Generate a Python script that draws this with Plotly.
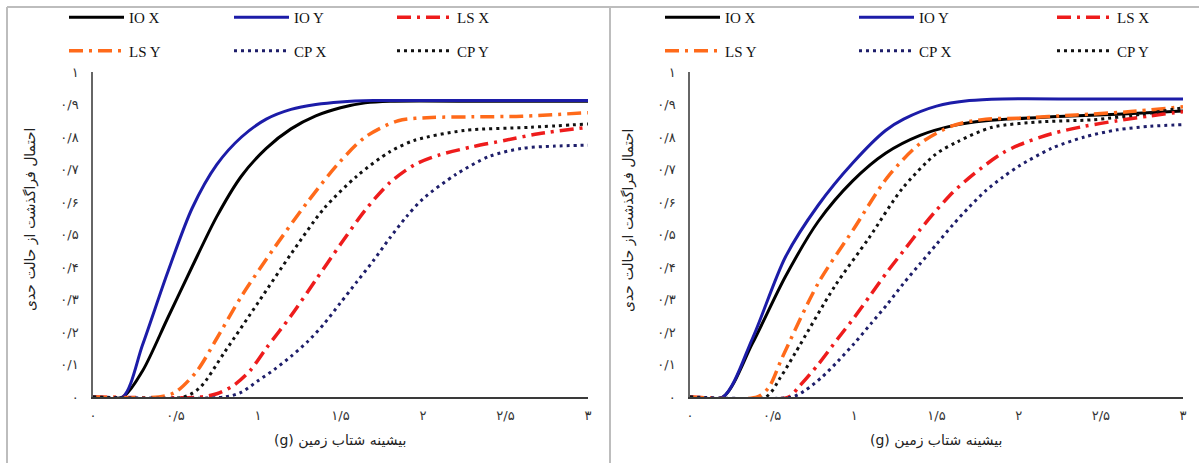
import plotly.graph_objects as go

# ---------------- data ----------------
series_names = ["IO X", "IO Y", "LS X", "LS Y", "CP X", "CP Y"]

x_ticks = [0, 0.5, 1, 1.5, 2, 2.5, 3]
x_tick_text = ["۰", "۰/۵", "۱", "۱/۵", "۲", "۲/۵", "۳"]
y_ticks = [0, 0.1, 0.2, 0.3, 0.4, 0.5, 0.6, 0.7, 0.8, 0.9, 1]
y_tick_text = ["۰", "۰/۱", "۰/۲", "۰/۳", "۰/۴", "۰/۵", "۰/۶", "۰/۷", "۰/۸", "۰/۹", "۱"]

x_title = "(g) بیشینه شتاب زمین"
y_title = "احتمال فراگذشت از حالت حدی"

# left panel
a_io_x_x = [0, 0.18, 0.3, 0.45, 0.6, 0.75, 0.9, 1.05, 1.2, 1.35, 1.5, 1.65, 1.8, 2.4, 3.0]
a_io_x_y = [0, 0, 0.08, 0.24, 0.40, 0.555, 0.68, 0.765, 0.825, 0.865, 0.89, 0.905, 0.91, 0.91, 0.91]
a_io_y_x = [0, 0.18, 0.3, 0.45, 0.6, 0.75, 0.9, 1.05, 1.2, 1.35, 1.5, 1.7, 2.4, 3.0]
a_io_y_y = [0, 0, 0.16, 0.38, 0.58, 0.715, 0.80, 0.855, 0.885, 0.90, 0.908, 0.912, 0.912, 0.912]
a_ls_x_x = [0, 0.65, 0.75, 0.85, 0.95, 1.05, 1.2, 1.35, 1.5, 1.65, 1.8, 1.95, 2.1, 2.3, 2.5, 2.7, 3.0]
a_ls_x_y = [0, 0, 0.01, 0.035, 0.08, 0.15, 0.25, 0.36, 0.47, 0.575, 0.66, 0.715, 0.745, 0.77, 0.79, 0.81, 0.83]
a_ls_y_x = [0, 0.40, 0.5, 0.63, 0.75, 0.9, 1.1, 1.3, 1.49, 1.65, 1.85, 2.05, 2.3, 2.6, 3.0]
a_ls_y_y = [0, 0, 0.015, 0.08, 0.18, 0.31, 0.46, 0.60, 0.72, 0.80, 0.85, 0.86, 0.862, 0.864, 0.875]
a_cp_x_x = [0, 0.8, 0.9, 1.0, 1.1, 1.2, 1.3, 1.4, 1.5, 1.6, 1.7, 1.8, 1.9, 2.0, 2.2, 2.4, 2.6, 2.8, 3.0]
a_cp_x_y = [0, 0, 0.015, 0.05, 0.085, 0.125, 0.17, 0.225, 0.29, 0.355, 0.42, 0.49, 0.555, 0.61, 0.685, 0.74, 0.765, 0.772, 0.775]
a_cp_y_x = [0, 0.55, 0.65, 0.8, 1.0, 1.2, 1.4, 1.6, 1.8, 1.95, 2.25, 2.65, 3.0]
a_cp_y_y = [0, 0, 0.03, 0.14, 0.29, 0.44, 0.58, 0.68, 0.755, 0.79, 0.82, 0.83, 0.84]

# right panel
b_io_x_x = [0, 0.20, 0.38, 0.58, 0.78, 0.99, 1.19, 1.4, 1.6, 1.8, 2.2, 2.6, 3.0]
b_io_x_y = [0, 0, 0.165, 0.37, 0.54, 0.665, 0.75, 0.805, 0.835, 0.85, 0.862, 0.87, 0.88]
b_io_y_x = [0, 0.20, 0.38, 0.58, 0.78, 0.99, 1.19, 1.3, 1.5, 1.7, 1.9, 2.4, 3.0]
b_io_y_y = [0, 0, 0.18, 0.43, 0.59, 0.72, 0.82, 0.855, 0.895, 0.912, 0.917, 0.917, 0.917]
b_ls_x_x = [0, 0.6, 0.66, 0.78, 0.9, 1.0, 1.1, 1.2, 1.3, 1.4, 1.5, 1.6, 1.7, 1.8, 1.9, 2.0, 2.2, 2.4, 2.6, 2.8, 3.0]
b_ls_x_y = [0, 0, 0.03, 0.10, 0.18, 0.245, 0.315, 0.385, 0.45, 0.515, 0.575, 0.63, 0.675, 0.715, 0.75, 0.775, 0.81, 0.833, 0.85, 0.865, 0.878]
b_ls_y_x = [0, 0.41, 0.48, 0.56, 0.78, 1.0, 1.2, 1.4, 1.6, 1.8, 2.0, 2.35, 2.65, 3.0]
b_ls_y_y = [0, 0, 0.03, 0.12, 0.35, 0.52, 0.675, 0.78, 0.835, 0.855, 0.858, 0.868, 0.877, 0.893]
b_cp_x_x = [0, 0.62, 0.7, 0.8, 0.9, 1.0, 1.1, 1.2, 1.3, 1.4, 1.5, 1.6, 1.7, 1.8, 1.9, 2.0, 2.2, 2.4, 2.6, 2.8, 3.0]
b_cp_x_y = [0, 0, 0.02, 0.06, 0.11, 0.165, 0.225, 0.285, 0.35, 0.41, 0.47, 0.53, 0.585, 0.635, 0.675, 0.71, 0.765, 0.80, 0.822, 0.833, 0.838]
b_cp_y_x = [0, 0.46, 0.55, 0.64, 0.88, 1.09, 1.29, 1.49, 1.63, 1.84, 2.15, 2.45, 2.75, 3.0]
b_cp_y_y = [0, 0, 0.06, 0.135, 0.34, 0.49, 0.64, 0.745, 0.786, 0.83, 0.847, 0.853, 0.87, 0.89]

panel_a = [(a_io_x_x, a_io_x_y), (a_io_y_x, a_io_y_y), (a_ls_x_x, a_ls_x_y),
           (a_ls_y_x, a_ls_y_y), (a_cp_x_x, a_cp_x_y), (a_cp_y_x, a_cp_y_y)]
panel_b = [(b_io_x_x, b_io_x_y), (b_io_y_x, b_io_y_y), (b_ls_x_x, b_ls_x_y),
           (b_ls_y_x, b_ls_y_y), (b_cp_x_x, b_cp_x_y), (b_cp_y_x, b_cp_y_y)]

# ---------------- styles ----------------
DASHDOT = "14px,6px,3px,6px"
DOT = "3px,4px"
styles = [
    dict(color="#000000", width=3, dash="solid"),
    dict(color="#1c1ca8", width=3, dash="solid"),
    dict(color="#ee1c1c", width=3.5, dash=DASHDOT),
    dict(color="#ff6a1a", width=3.5, dash=DASHDOT),
    dict(color="#1e1e6a", width=3, dash=DOT),
    dict(color="#111111", width=3, dash=DOT),
]

W, H = 1199, 463
def px_x(p):
    return p / W
def px_y(p):
    return (H - p) / H

fig = go.Figure()
# legend columns: col1 = IO X, LS Y ; col2 = IO Y, CP X ; col3 = LS X, CP Y
col_of = [0, 1, 2, 0, 1, 2]
legends_a = ["legend", "legend2", "legend3"]
legends_b = ["legend4", "legend5", "legend6"]

for i, (xs, ys) in enumerate(panel_a):
    fig.add_trace(go.Scatter(x=xs, y=ys, mode="lines", name=series_names[i],
                             line=dict(shape="spline", smoothing=0.8, **styles[i]),
                             xaxis="x", yaxis="y", legend=legends_a[col_of[i]],
                             legendgroup="a%d" % i))
for i, (xs, ys) in enumerate(panel_b):
    fig.add_trace(go.Scatter(x=xs, y=ys, mode="lines", name=series_names[i],
                             line=dict(shape="spline", smoothing=0.8, **styles[i]),
                             xaxis="x2", yaxis="y2", legend=legends_b[col_of[i]],
                             legendgroup="b%d" % i))

tick_font = dict(family="DejaVu Sans", size=13, color="#333333")
axis_common = dict(showgrid=False, zeroline=False, showline=True, ticks="",
                   tickfont=tick_font, fixedrange=True, automargin=False)

ydom = [px_y(397), px_y(72)]
fig.update_layout(
    width=W, height=H,
    margin=dict(l=0, r=0, t=0, b=0, autoexpand=False),
    paper_bgcolor="white", plot_bgcolor="white",
    showlegend=True,
    xaxis=dict(domain=[px_x(93), px_x(588)], range=[0, 3], tickvals=x_ticks, ticktext=x_tick_text,
               linecolor="#3a3a3a", linewidth=1.5, anchor="y", ticklabelstandoff=6, **axis_common),
    yaxis=dict(domain=ydom, range=[0, 1], tickvals=y_ticks, ticktext=y_tick_text,
               linecolor="#666666", linewidth=1.5, anchor="x", ticklabelstandoff=10, **axis_common),
    xaxis2=dict(domain=[px_x(690), px_x(1183)], range=[0, 3], tickvals=x_ticks, ticktext=x_tick_text,
                linecolor="#3a3a3a", linewidth=1.5, anchor="y2", ticklabelstandoff=6, **axis_common),
    yaxis2=dict(domain=ydom, range=[0, 1], tickvals=y_ticks, ticktext=y_tick_text,
                linecolor="#666666", linewidth=1.5, anchor="x2", ticklabelstandoff=10, **axis_common),
)

leg_font = dict(family="Liberation Serif", size=15, color="#111111")
def leg(xp):
    return dict(x=px_x(xp), y=px_y(1), xanchor="left", yanchor="top", orientation="v",
                itemwidth=55, font=leg_font, bgcolor="rgba(0,0,0,0)", borderwidth=0,
                tracegroupgap=11)

fig.update_layout(
    legend=leg(64), legend2=leg(229), legend3=leg(392),
    legend4=leg(660), legend5=leg(854), legend6=leg(1052),
)

# panel frames
frame = dict(color="#bdbdbd", width=2)
fig.add_shape(type="line", xref="paper", yref="paper", x0=px_x(7), x1=1, y0=px_y(7), y1=px_y(7), line=frame)
fig.add_shape(type="line", xref="paper", yref="paper", x0=px_x(7), x1=px_x(7), y0=0, y1=px_y(7), line=frame)
fig.add_shape(type="line", xref="paper", yref="paper", x0=px_x(610), x1=px_x(610), y0=0, y1=px_y(7), line=frame)

title_font = dict(family="DejaVu Sans", size=14, color="#222222")
for cx, ycx in [(30, 220), (628, 220)]:
    fig.add_annotation(text=y_title, xref="paper", yref="paper", x=px_x(cx), y=px_y(ycx),
                       showarrow=False, textangle=-90, font=title_font, xanchor="center", yanchor="middle")
for cx in [340, 936]:
    fig.add_annotation(text=x_title, xref="paper", yref="paper", x=px_x(cx), y=px_y(440),
                       showarrow=False, font=title_font, xanchor="center", yanchor="middle")

fig.write_html("out.html", config={"displayModeBar": False},
               post_script=["document.body.style.margin='0';"])
